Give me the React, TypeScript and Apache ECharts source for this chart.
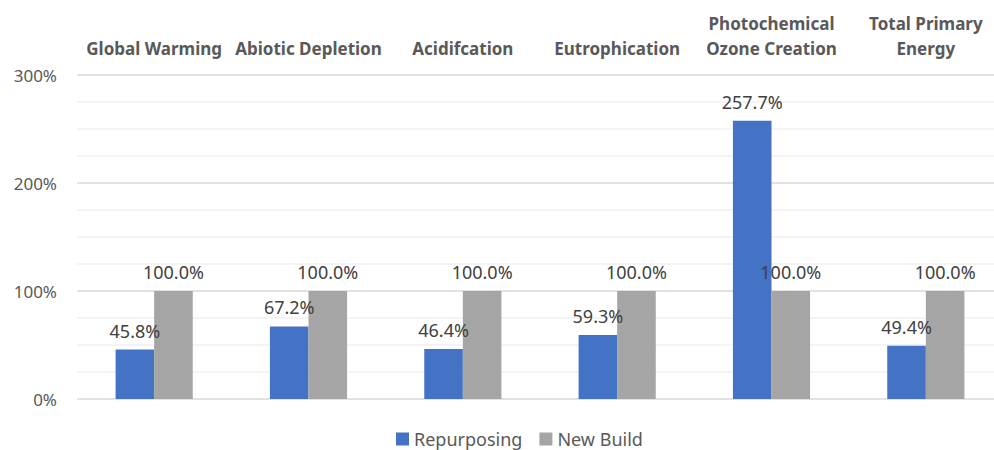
import React, { useEffect, useRef } from "react";
import * as echarts from "echarts";

// Impact categories (line breaks as shown in the header row)
const categories = [
  "Global Warming",
  "Abiotic Depletion",
  "Acidifcation",
  "Eutrophication",
  "Photochemical\nOzone Creation",
  "Total Primary\nEnergy",
];

// Impact relative to a new build, in percent
const repurposing = [45.8, 67.2, 46.4, 59.3, 257.7, 49.4];
const newBuild = [100.0, 100.0, 100.0, 100.0, 100.0, 100.0];

const FONT = "'Noto Sans', 'Open Sans', sans-serif";
const TEXT = "#595959";

export default function App() {
  const ref = useRef<HTMLDivElement>(null);

  useEffect(() => {
    if (!ref.current) return;
    const chart = echarts.init(ref.current, null, { renderer: "svg" });

    const valueLabel = {
      show: true,
      position: "top" as const,
      distance: 10,
      color: "#404040",
      fontFamily: FONT,
      fontSize: 18,
      formatter: (p: any) => `${Number(p.value).toFixed(1)}%`,
    };

    chart.setOption({
      animation: false,
      backgroundColor: "#ffffff",
      textStyle: { fontFamily: FONT },
      grid: {
        left: 77,
        width: 926,
        top: 75,
        height: 324,
        containLabel: false,
        outerBoundsMode: "none",
      },
      legend: {
        top: 425,
        left: 391,
        icon: "rect",
        itemWidth: 13,
        itemHeight: 13,
        itemGap: 17,
        textStyle: { color: TEXT, fontSize: 18, lineHeight: 18, fontFamily: FONT },
        data: ["Repurposing", "New Build"],
      },
      xAxis: {
        type: "category",
        position: "top",
        data: categories,
        axisLine: { show: false },
        axisTick: { show: false },
        axisLabel: {
          interval: 0,
          margin: 14,
          color: TEXT,
          fontWeight: "bold",
          fontSize: 17,
          lineHeight: 25,
          fontFamily: FONT,
          align: "center",
        },
      },
      yAxis: {
        type: "value",
        min: 0,
        max: 300,
        interval: 100,
        axisLine: { show: false },
        axisTick: { show: false },
        axisLabel: {
          color: TEXT,
          fontSize: 17,
          fontFamily: FONT,
          margin: 20,
          formatter: "{value}%",
        },
        splitLine: { show: true, lineStyle: { color: "#d9d9d9", width: 1.5 } },
        minorTick: { show: false, splitNumber: 4 },
        minorSplitLine: { show: true, lineStyle: { color: "#f0f0f0", width: 1.5 } },
      },
      series: [
        {
          name: "Repurposing",
          type: "bar",
          data: repurposing,
          barWidth: "25%",
          barGap: "0%",
          itemStyle: { color: "#4472C4" },
          label: valueLabel,
        },
        {
          name: "New Build",
          type: "bar",
          data: newBuild,
          barWidth: "25%",
          barGap: "0%",
          itemStyle: { color: "#A5A5A5" },
          label: valueLabel,
        },
      ],
    });

    return () => chart.dispose();
  }, []);

  return (
    <div
      ref={ref}
      style={{ position: "absolute", left: 0, top: 0, width: 994, height: 450, overflow: "hidden" }}
    />
  );
}
